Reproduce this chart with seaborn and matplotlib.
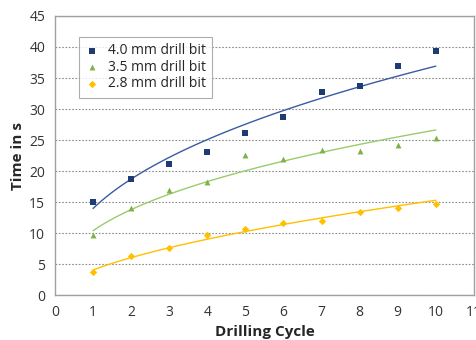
import seaborn as sns
import numpy as np
import pandas as pd
import matplotlib.pyplot as plt

cycles = [1, 2, 3, 4, 5, 6, 7, 8, 9, 10]
bit_40 = [15.0, 18.8, 21.1, 23.1, 26.2, 28.7, 32.8, 33.7, 36.9, 39.3]
bit_35 = [9.7, 14.0, 17.0, 18.2, 22.6, 22.0, 23.4, 23.3, 24.2, 25.4]
bit_28 = [3.8, 6.3, 7.6, 9.7, 10.6, 11.7, 12.0, 13.4, 14.0, 14.7]
labels = ['4.0 mm drill bit', '3.5 mm drill bit', '2.8 mm drill bit']

df = pd.DataFrame({'cycle': cycles, labels[0]: bit_40, labels[1]: bit_35, labels[2]: bit_28})
df_melted = pd.melt(df, id_vars=['cycle'], var_name='bit', value_name='time')

sns.set_style("white")
plt.rcParams['font.family'] = ['Open Sans', 'DejaVu Sans']

fig = plt.figure(figsize=(4.76, 3.40), dpi=100)
ax = fig.add_axes([0.1155, 0.132, 0.88, 0.821])

point_colors = ['#1F3B73', '#7DB346', '#FFC000']
line_colors = ['#3A5BA0', '#9BCB6A', '#FFC000']
markers = ['s', '^', 'D']
sizes = [16, 18, 14]

# power trendlines like Excel
xs = np.linspace(1, 10, 100)
for lab, lc in zip(labels, line_colors):
    y = df[lab].values
    b, a = np.polyfit(np.log(cycles), np.log(y), 1)
    ax.plot(xs, np.exp(a) * xs ** b, color=lc, lw=1.0, zorder=2)

for lab, pc, m, s in zip(labels, point_colors, markers, sizes):
    sub = df_melted[df_melted['bit'] == lab]
    sns.scatterplot(x='cycle', y='time', data=sub, ax=ax, color=pc, marker=m,
                    s=s, linewidth=0, label=lab, zorder=3)

ax.set_xlim(0, 11)
ax.set_ylim(0, 45)
ax.set_xticks(range(0, 12))
ax.set_yticks(range(0, 50, 5))
ax.yaxis.grid(True, linestyle=(0, (1.5, 1.5)), color='#8c8c8c', lw=0.8)
ax.set_axisbelow(True)
for sp in ax.spines.values():
    sp.set_color('#a0a0a0')
    sp.set_linewidth(1.0)
ax.tick_params(axis='both', direction='out', length=4, width=0.8, color='#a0a0a0',
               labelsize=10, labelcolor='#333333', pad=3)
ax.set_xlabel('Drilling Cycle', fontsize=11, fontweight='bold', labelpad=4)
ax.set_ylabel('Time in s', fontsize=11, fontweight='bold', labelpad=3)

leg = ax.legend(loc='upper left', bbox_to_anchor=(0.058, 0.925), fontsize=10,
                frameon=True, fancybox=False, edgecolor='#999999',
                handletextpad=0.6, borderpad=0.45, labelspacing=0.12,
                handlelength=1.0, borderaxespad=0)
leg.get_frame().set_linewidth(0.8)

plt.savefig("out.png", dpi=100)
